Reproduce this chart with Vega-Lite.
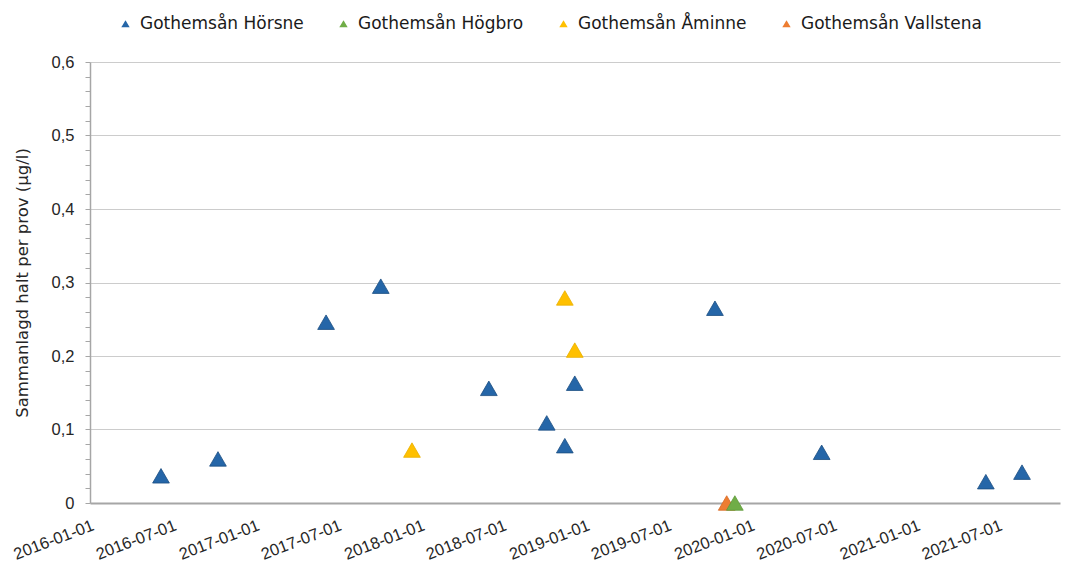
{
  "$schema": "https://vega.github.io/schema/vega-lite/v6.json",
  "width": 970,
  "height": 441,
  "autosize": "none",
  "padding": {"left": 90, "top": 62, "right": 8, "bottom": 63},
  "background": "white",
  "data": {
    "values": [
      {"station": "Gothemsån Hörsne", "datum": "2016-06-06", "halt": 0.037},
      {"station": "Gothemsån Hörsne", "datum": "2016-10-10", "halt": 0.060},
      {"station": "Gothemsån Hörsne", "datum": "2017-06-06", "halt": 0.246},
      {"station": "Gothemsån Hörsne", "datum": "2017-10-05", "halt": 0.295},
      {"station": "Gothemsån Hörsne", "datum": "2018-06-01", "halt": 0.156},
      {"station": "Gothemsån Hörsne", "datum": "2018-10-07", "halt": 0.109},
      {"station": "Gothemsån Hörsne", "datum": "2018-11-16", "halt": 0.078},
      {"station": "Gothemsån Hörsne", "datum": "2018-12-08", "halt": 0.163},
      {"station": "Gothemsån Hörsne", "datum": "2019-10-14", "halt": 0.265},
      {"station": "Gothemsån Hörsne", "datum": "2020-06-06", "halt": 0.069},
      {"station": "Gothemsån Hörsne", "datum": "2021-06-04", "halt": 0.029},
      {"station": "Gothemsån Hörsne", "datum": "2021-08-23", "halt": 0.042},
      {"station": "Gothemsån Åminne", "datum": "2017-12-13", "halt": 0.072},
      {"station": "Gothemsån Åminne", "datum": "2018-11-16", "halt": 0.279},
      {"station": "Gothemsån Åminne", "datum": "2018-12-08", "halt": 0.208},
      {"station": "Gothemsån Vallstena", "datum": "2019-11-09", "halt": 0},
      {"station": "Gothemsån Högbro", "datum": "2019-11-27", "halt": 0}
    ]
  },
  "mark": {"type": "point", "shape": "triangle-up", "filled": true, "size": 280, "opacity": 1, "strokeWidth": 0.8},
  "encoding": {
    "x": {
      "field": "datum",
      "type": "temporal",
      "scale": {"type": "utc", "domain": [{"year": 2016, "month": 1, "date": 1, "utc": true}, {"year": 2021, "month": 11, "date": 15, "utc": true}]},
      "axis": {
        "title": null,
        "labelExpr": "utcFormat(datum.value, '%Y-%m-%d')",
        "values": [
          {"year": 2016, "month": 1, "date": 1, "utc": true},
          {"year": 2016, "month": 7, "date": 1, "utc": true},
          {"year": 2017, "month": 1, "date": 1, "utc": true},
          {"year": 2017, "month": 7, "date": 1, "utc": true},
          {"year": 2018, "month": 1, "date": 1, "utc": true},
          {"year": 2018, "month": 7, "date": 1, "utc": true},
          {"year": 2019, "month": 1, "date": 1, "utc": true},
          {"year": 2019, "month": 7, "date": 1, "utc": true},
          {"year": 2020, "month": 1, "date": 1, "utc": true},
          {"year": 2020, "month": 7, "date": 1, "utc": true},
          {"year": 2021, "month": 1, "date": 1, "utc": true},
          {"year": 2021, "month": 7, "date": 1, "utc": true}
        ],
        "grid": false,
        "ticks": false,
        "labelAngle": -21,
        "labelAlign": "right",
        "labelBaseline": "top",
        "labelPadding": 14,
        "labelOverlap": false,
        "labelFont": "Liberation Sans",
        "labelFontSize": 16.5,
        "labelColor": "#262626",
        "domainColor": "#A6A6A6",
        "domainWidth": 2
      }
    },
    "y": {
      "field": "halt",
      "type": "quantitative",
      "scale": {"domain": [0, 0.6], "nice": false, "zero": true},
      "axis": {
        "title": "Sammanlagd halt per prov (µg/l)",
        "titleFont": "DejaVu Sans",
        "titleFontSize": 16.5,
        "titleFontWeight": "normal",
        "titleColor": "#262626",
        "titlePadding": 21,
        "values": [0, 0.02, 0.04, 0.06, 0.08, 0.1, 0.12, 0.14, 0.16, 0.18, 0.2, 0.22, 0.24, 0.26, 0.28, 0.3, 0.32, 0.34, 0.36, 0.38, 0.4, 0.42, 0.44, 0.46, 0.48, 0.5, 0.52, 0.54, 0.56, 0.58, 0.6],
        "labelExpr": "abs(datum.value*10 - round(datum.value*10)) > 0.001 ? '' : (datum.value == 0 ? '0' : replace(format(datum.value, '.1f'), '.', ','))",
        "labelOverlap": false,
        "labelFont": "Liberation Sans",
        "labelFontSize": 16.5,
        "labelColor": "#262626",
        "labelPadding": 11,
        "tickSize": 5,
        "tickColor": "#A6A6A6",
        "domainColor": "#A6A6A6",
        "domainWidth": 1.5,
        "grid": true,
        "gridColor": "#CCCCCC",
        "gridWidth": 1,
        "gridOpacity": {"condition": {"test": "abs(datum.value*10 - round(datum.value*10)) < 0.001 && datum.value > 0", "value": 1}, "value": 0}
      }
    },
    "fill": {
      "field": "station",
      "type": "nominal",
      "scale": {
        "domain": ["Gothemsån Hörsne", "Gothemsån Högbro", "Gothemsån Åminne", "Gothemsån Vallstena"],
        "range": ["#2566A8", "#70AD47", "#FFC000", "#ED7D31"]
      },
      "legend": {
        "title": null,
        "orient": "none",
        "direction": "horizontal",
        "legendX": 27,
        "legendY": -47,
        "symbolType": "triangle-up",
        "symbolSize": 70,
        "symbolStrokeWidth": 0,
        "labelFont": "DejaVu Sans",
        "labelFontSize": 17,
        "labelColor": "#1a1a1a",
        "labelOffset": 6,
        "columnPadding": 31,
        "labelLimit": 300
      }
    },
    "stroke": {
      "field": "station",
      "type": "nominal",
      "scale": {
        "domain": ["Gothemsån Hörsne", "Gothemsån Högbro", "Gothemsån Åminne", "Gothemsån Vallstena"],
        "range": ["#1B4C80", "#5E9A3A", "#E8B000", "#D86A25"]
      },
      "legend": null
    }
  },
  "config": {
    "view": {"stroke": null},
    "font": "Liberation Sans"
  }
}
